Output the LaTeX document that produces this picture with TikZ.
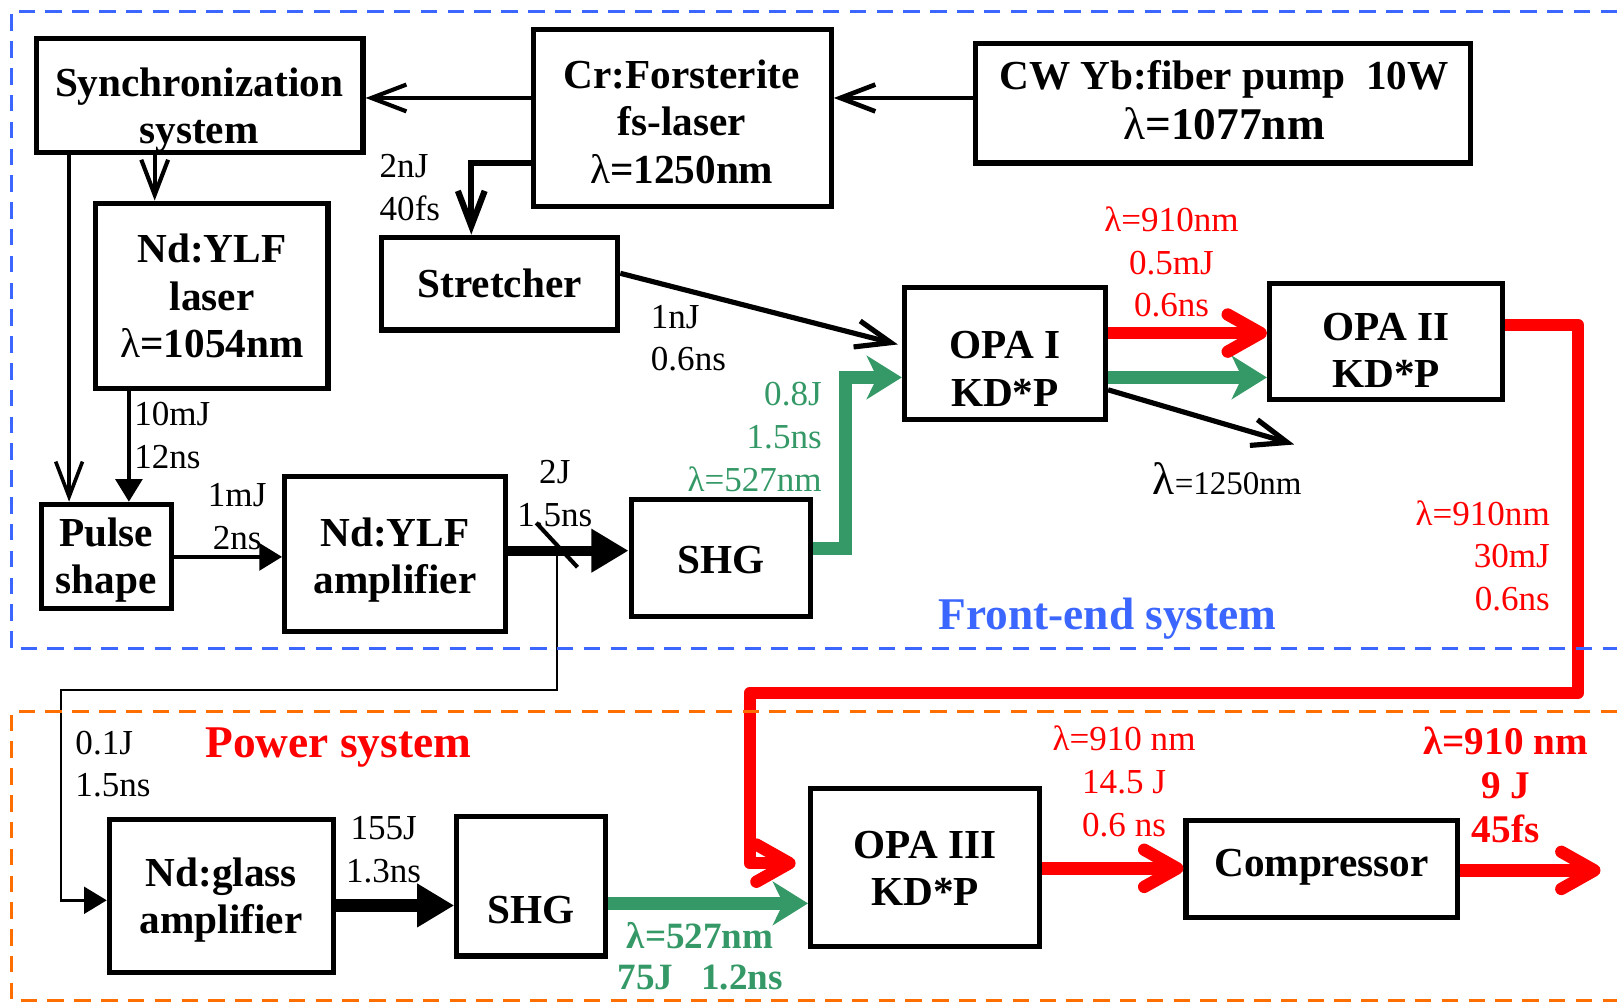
\documentclass[tikz,border=0pt]{standalone}
\usepackage{fontspec}
\setmainfont{Liberation Serif}
\usetikzlibrary{arrows.meta}
\definecolor{fblue}{RGB}{59,102,255}
\definecolor{porange}{RGB}{255,110,0}
\definecolor{bgreen}{RGB}{52,153,102}
\definecolor{bred}{RGB}{255,0,0}
\begin{document}
\begin{tikzpicture}[x=1pt,y=-1pt,
 box/.style={draw,line width=5pt,inner sep=0pt},
 btxt/.style={font=\fontsize{40}{46}\selectfont\bfseries,align=center,inner sep=0pt},
 lbl/.style={font=\fontsize{34}{41.5}\selectfont,inner sep=0pt},
 openarr/.style={-{Straight Barb[length=34pt,width=26pt]}},
 triarr/.style={-{Triangle[length=22pt,width=26pt]}},
 bigtri/.style={-{Triangle[length=36pt,width=40pt]}},
 redarr/.style={draw=bred,line width=12pt,line join=round,-{Straight Barb[length=32pt,width=36pt,round]}},
 grnarr/.style={draw=bgreen,line width=12pt,-{Stealth[length=34pt,width=42pt,inset=10pt]}},
 dashframe/.style={line width=3pt,dash pattern=on 16pt off 10pt},
]
\useasboundingbox (0,0) rectangle (1568,972);

% boxes
\node[box,minimum width=317pt,minimum height=111pt] (sync) at (193.5,92.5) {};
\node[box,minimum width=289pt,minimum height=171pt] (cr) at (661.5,114.5) {};
\node[box,minimum width=480pt,minimum height=116pt] (cw) at (1186,100) {};
\node[box,minimum width=225pt,minimum height=180pt] (ndl) at (205.5,287) {};
\node[box,minimum width=229pt,minimum height=90pt] (str) at (484.5,275) {};
\node[box,minimum width=195pt,minimum height=128pt] (opa1) at (974.5,343) {};
\node[box,minimum width=226pt,minimum height=112pt] (opa2) at (1344,331) {};
\node[box,minimum width=126pt,minimum height=101pt] (pulse) at (103,539.5) {};
\node[box,minimum width=214pt,minimum height=150pt] (amp) at (383,537) {};
\node[box,minimum width=174pt,minimum height=114pt] (shg1) at (699,541) {};
\node[box,minimum width=217pt,minimum height=148pt] (ndg) at (214.5,869) {};
\node[box,minimum width=144pt,minimum height=135pt] (shg2) at (515,859.5) {};
\node[box,minimum width=222pt,minimum height=153pt] (opa3) at (897,841.5) {};
\node[box,minimum width=263pt,minimum height=94pt] (comp) at (1281.5,843) {};

% box texts
\node[btxt] (sync-t) at (193,107) {Synchronization\\system};
\node[btxt] (cr-t) at (661,118) {Cr:Forsterite\\fs-laser\\{\mdseries λ}=1250nm};
\node[btxt] (cw-t) at (1187,97) {CW Yb:fiber pump\ \ 10W\\[3pt]{\fontsize{44}{46}\selectfont{\mdseries λ}=1077nm}};
\node[btxt] (ndl-t) at (205.5,287) {Nd:YLF\\laser\\{\mdseries λ}=1054nm};
\node[btxt] (str-t) at (484.5,275) {Stretcher};
\node[btxt] (opa1-t) at (974.5,357.5) {OPA I\\KD*P};
\node[btxt] (opa2-t) at (1344,340) {OPA II\\KD*P};
\node[btxt] (pulse-t) at (103,543) {Pulse\\shape};
\node[btxt] (amp-t) at (383,543) {Nd:YLF\\amplifier};
\node[btxt] (shg1-t) at (699,543) {SHG};
\node[btxt] (ndg-t) at (214.5,873) {Nd:glass\\amplifier};
\node[btxt] (shg2-t) at (515,882) {SHG};
\node[btxt] (opa3-t) at (897,842) {OPA III\\KD*P};
\node[btxt] (comp-t) at (1281.5,841) {Compressor};

% black connectors
\draw[line width=4.5pt,openarr] (cw.west |- 0,95) -- (cr.east |- 0,95);
\draw[line width=4pt,openarr] (cr.west |- 0,95) -- (sync.east |- 0,95);
\draw[line width=6pt,openarr] (cr.west |- 0,158) -| (457,0 |- str.north);
\draw[line width=4pt,openarr] (sync.south -| 150,0) -- (ndl.north -| 150,0);
\draw[line width=3.5pt,openarr] (sync.south -| 67,0) -- (pulse.north -| 67,0);
\draw[line width=3.5pt,triarr] (ndl.south -| 125,0) -- (pulse.north -| 125,0);
\draw[line width=3.5pt,triarr] (pulse.east |- 0,540) -- (amp.west |- 0,540);
\draw[line width=10pt,bigtri] (amp.east |- 0,534) -- (shg1.west |- 0,534);
\coordinate (sp) at (540,534);
\draw[line width=4pt] (520,507) -- (560,550);
\draw[line width=2.5pt,triarr] (sp) |- (59,669) |- (ndg.west |- 0,873);
\draw[line width=5pt,openarr,shorten >=4pt] (str.east |- 0,265) -- (opa1.west |- 0,335);
\coordinate (o1250) at (1255,431);
\draw[line width=5pt,openarr] (opa1.east |- 0,378) -- (o1250);
\draw[line width=12pt,bigtri] (ndg.east |- 0,878) -- (shg2.west |- 0,878);

% green connectors
\draw[grnarr] (shg1.east |- 0,532) -| (820,366) -- (opa1.west |- 0,366);
\draw[grnarr] (opa1.east |- 0,366) -- (opa2.west |- 0,366);
\draw[grnarr] (shg2.east |- 0,876) -- (opa3.west |- 0,876);

% red connectors
\draw[redarr] (opa1.east |- 0,323) -- (opa2.west |- 0,323);
\draw[redarr,shorten >=12pt] (opa2.east |- 0,315) -| (1530,672) -| (727,837) -- (opa3.west |- 0,837);
\draw[redarr] (opa3.east |- 0,842) -- (comp.west |- 0,842);
\coordinate (out) at (1552,844);
\draw[redarr] (comp.east |- 0,844) -- (out);

% labels
\node[lbl,align=left,anchor=west] (l1) at (368,182) {2nJ\\40fs};
\node[lbl,align=left,anchor=west] (l2) at (130,422) {10mJ\\12ns};
\node[lbl,align=center] (l3) at (230,501) {1mJ\\2ns};
\node[lbl,align=center] (l4) at (538,479) {2J\\1.5ns};
\node[lbl,align=left,anchor=west] (l5) at (631,328) {1nJ\\0.6ns};
\node[lbl,align=right,anchor=east,text=bgreen] (l6) at (797,424) {0.8J\\1.5ns\\λ=527nm};
\node[lbl,align=center,text=bred] (l7) at (1136,254) {λ=910nm\\0.5mJ\\0.6ns};
\node[lbl] (l8) at (1190,464) {{\fontsize{44}{44}\selectfont λ}{\fontsize{32}{32}\selectfont =1250nm}};
\node[lbl,align=right,anchor=east,text=bred] (l9) at (1503,539) {λ=910nm\\30mJ\\0.6ns};
\node[lbl,align=left,anchor=west] (l10) at (73,741) {0.1J\\1.5ns};
\node[lbl,align=center] (l11) at (372,824) {155J\\1.3ns};
\node[lbl,align=center,text=bred] (l12) at (1090,758) {λ=910 nm\\14.5 J\\0.6 ns};
\node[align=center,inner sep=0pt,text=bred,font=\fontsize{38}{43}\selectfont\bfseries] (l13) at (1460,761) {λ=910 nm\\9 J\\45fs};
\node[align=center,inner sep=0pt,text=bgreen,font=\fontsize{36}{40}\selectfont\bfseries] (l14) at (679,927) {λ=527nm\\75J\ \ \ 1.2ns};

\node[inner sep=0pt,text=fblue,font=\fontsize{44}{50}\selectfont\bfseries] (fe) at (1074,600) {Front-end system};
\node[inner sep=0pt,text=bred,font=\fontsize{44}{50}\selectfont\bfseries] (ps) at (328,725) {Power system};

% dashed frames
\draw[dashframe,draw=fblue] (1568,11) -- (11,11) -- (11,629) -- (1568,629);
\draw[dashframe,draw=porange] (1568,690) -- (11,690) -- (11,970) -- (1568,970);
\end{tikzpicture}
\end{document}
